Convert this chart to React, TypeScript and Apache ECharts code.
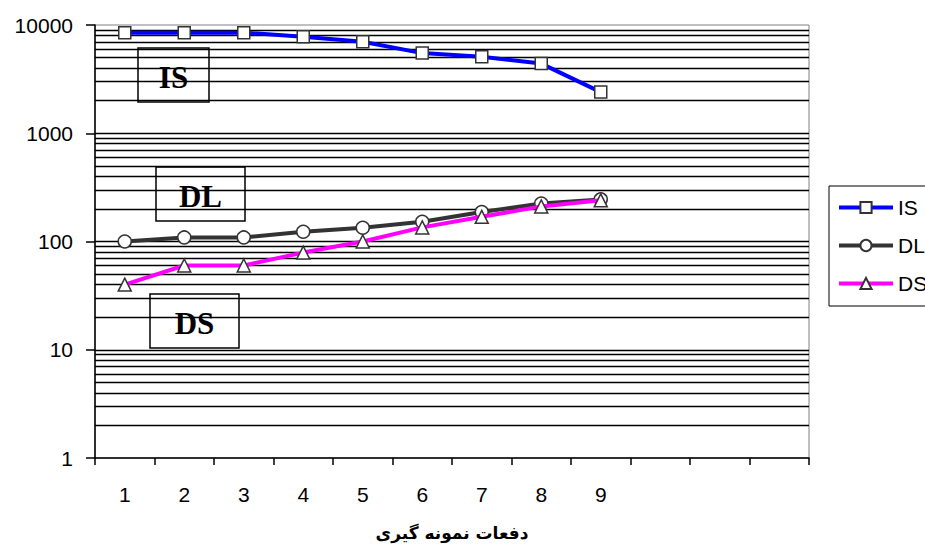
import React, { useEffect, useRef } from "react";
import * as echarts from "echarts";

const categories = ["1", "2", "3", "4", "5", "6", "7", "8", "9", "", "", ""];
const isValues = [8500, 8500, 8500, 7800, 7000, 5500, 5100, 4400, 2400];
const dlValues = [100, 109, 109, 123, 134, 152, 187, 224, 245];
const dsValues = [40, 60, 60, 79, 100, 135, 169, 211, 240];
const gridValues = [
  2, 3, 4, 5, 6, 7, 8, 9, 10,
  20, 30, 40, 50, 60, 70, 80, 90, 100,
  200, 300, 400, 500, 600, 700, 800, 900, 1000,
  2000, 3000, 4000, 5000, 6000, 7000, 8000, 9000,
];
const xAxisTitle = "دفعات نمونه گیری";

export default function App() {
  const ref = useRef<HTMLDivElement>(null);
  useEffect(() => {
    if (!ref.current) return;
    const chart = echarts.init(ref.current, undefined, { renderer: "svg" });
    const markerStyle = { color: "#ffffff", borderColor: "#333333", borderWidth: 1.5 };
    const boxText = (cx: number, cy: number, w: number, h: number, t: string) => ({
      type: "group",
      z: 100,
      children: [
        {
          type: "rect",
          shape: { x: cx - w / 2, y: cy - h / 2, width: w, height: h },
          style: { fill: "#ffffff", stroke: "#000000", lineWidth: 1.5 },
        },
        {
          type: "text",
          x: cx,
          y: cy + 2,
          style: {
            text: t,
            fill: "#000",
            fontFamily: "'Liberation Serif', serif",
            fontWeight: "bold",
            fontSize: 31,
            textAlign: "center",
            textVerticalAlign: "middle",
          },
        },
      ],
    });
    chart.setOption({
      animation: false,
      backgroundColor: "#ffffff",
      grid: {
        left: 95,
        right: 116,
        top: 25,
        bottom: 86,
        show: true,
        borderColor: "#808080",
        borderWidth: 1,
        backgroundColor: "#ffffff",
      },
      legend: {
        orient: "vertical",
        left: 829,
        top: 186,
        padding: [11, 60, 12, 8],
        itemGap: 17,
        itemWidth: 54,
        itemHeight: 14,
        borderColor: "#000",
        borderWidth: 1,
        lineStyle: { width: 4 },
        textStyle: { fontFamily: "'Liberation Sans', Arial", fontSize: 21, color: "#000" },
        data: ["IS", "DL", "DS"],
      },
      xAxis: {
        type: "category",
        data: categories,
        boundaryGap: true,
        axisLine: { lineStyle: { color: "#000", width: 1.5 } },
        axisTick: { show: true, length: 7, lineStyle: { color: "#000", width: 1.5 } },
        axisLabel: {
          fontFamily: "'Liberation Sans', Arial",
          fontSize: 21,
          color: "#000",
          margin: 26,
        },
        name: xAxisTitle,
        nameLocation: "middle",
        nameGap: 66,
        nameTextStyle: {
          fontFamily: "'DejaVu Sans', sans-serif",
          fontWeight: "bold",
          fontSize: 17,
          color: "#000",
        },
        splitLine: { show: false },
      },
      yAxis: {
        type: "log",
        logBase: 10,
        min: 1,
        max: 10000,
        axisLine: { show: true, lineStyle: { color: "#000", width: 1.5 } },
        axisTick: { show: true, length: 9, lineStyle: { color: "#000", width: 1.5 } },
        axisLabel: {
          fontFamily: "'Liberation Sans', Arial",
          fontSize: 21,
          color: "#000",
          margin: 22,
          formatter: (v: number) => String(Math.round(v)),
        },
        splitLine: { show: false },
      },
      series: [
        {
          name: "IS",
          type: "line",
          data: isValues,
          symbol: "rect",
          symbolSize: 12,
          color: "#0000ff",
          lineStyle: { color: "#0000ff", width: 4 },
          itemStyle: markerStyle,
          z: 5,
          markLine: {
            silent: true,
            symbol: "none",
            label: { show: false },
            animation: false,
            lineStyle: { color: "#000000", width: 1.3, type: "solid" },
            data: gridValues.map((v) => ({ yAxis: v })),
            z: 1,
          },
        },
        {
          name: "DL",
          type: "line",
          data: dlValues,
          symbol: "circle",
          symbolSize: 13,
          color: "#333333",
          lineStyle: { color: "#333333", width: 4 },
          itemStyle: markerStyle,
          z: 4,
        },
        {
          name: "DS",
          type: "line",
          data: dsValues,
          symbol: "triangle",
          symbolSize: 13,
          color: "#ff00ff",
          lineStyle: { color: "#ff00ff", width: 4 },
          itemStyle: markerStyle,
          z: 6,
        },
      ],
      graphic: [
        boxText(173.5, 75, 71, 54, "IS"),
        boxText(200.5, 194, 89, 54, "DL"),
        boxText(194.5, 321, 89, 54, "DS"),
      ],
    });
    return () => chart.dispose();
  }, []);
  return <div ref={ref} style={{ width: 925, height: 546, position: "absolute", left: 0, top: 0 }} />;
}
